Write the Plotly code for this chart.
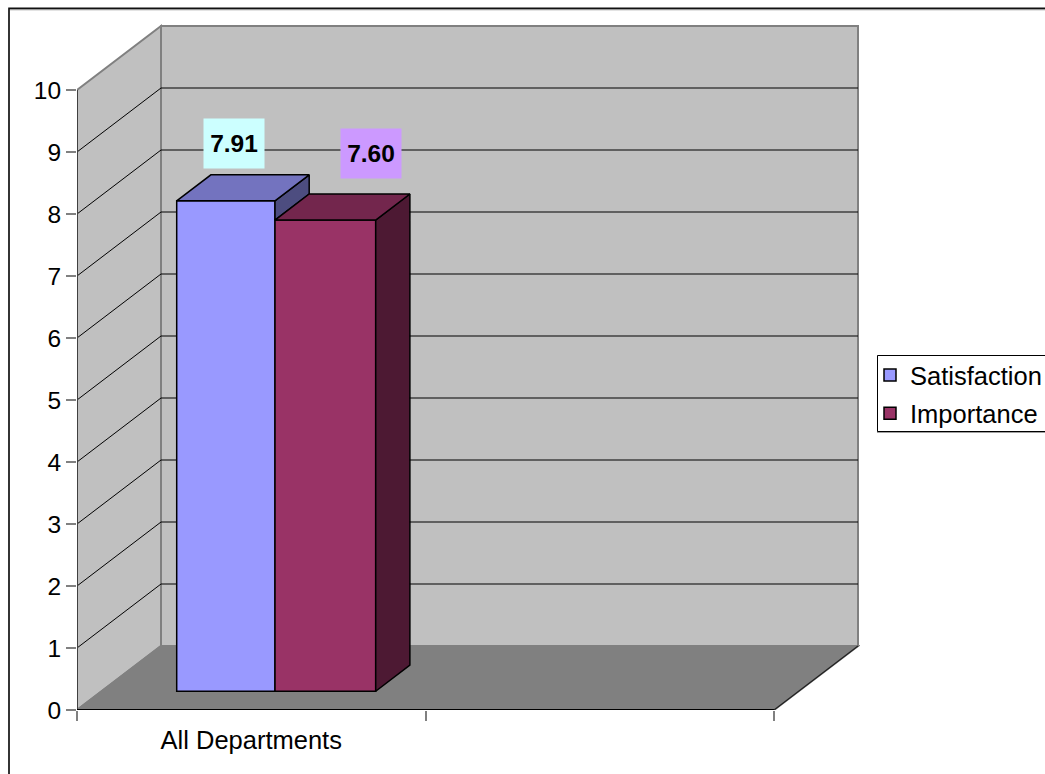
import plotly.graph_objects as go

# ---- chart values ----
categories = ["All Departments"]
series_names = ["Satisfaction", "Importance"]
satisfaction = [7.91]
importance = [7.60]
value_ticks = [0, 1, 2, 3, 4, 5, 6, 7, 8, 9, 10]
category_bounds = [0, 1, 2]

# ---- page and box geometry (pixels) ----
W, H = 1045, 774
PLOT_L, PLOT_R, PLOT_T = 77, 860, 20
ZERO_Y = 710.0
PX_PER_CAT = 348.5
PX_PER_VAL = 62.0
X_MAX = (PLOT_R - PLOT_L) / PX_PER_CAT
Y_MAX = (ZERO_Y - PLOT_T) / PX_PER_VAL
FONT = "Liberation Sans"
TEXT_SIZE = 24.5
NAME_SIZE = 25.5

# oblique projection: how far the back plane sits from the front plane
DEPTH_X = 84.0 / PX_PER_CAT
DEPTH_Y = 64.0 / PX_PER_VAL
BAR_FRONT_DEPTH = 0.293
BAR_BACK_DEPTH = 0.70
BAR_LEFT = 99.7 / PX_PER_CAT
BAR_WIDTHS = [98.3 / PX_PER_CAT, 100.7 / PX_PER_CAT]


def project(x, y, depth=0.0):
    return x + depth * DEPTH_X, y + depth * DEPTH_Y


def poly(points):
    return "M" + " L".join(f"{x:.5f},{y:.5f}" for x, y in points) + " Z"


def paper_x(px):
    return (px - PLOT_L) / (PLOT_R - PLOT_L)


def paper_y(py):
    return (ZERO_Y - py) / (ZERO_Y - PLOT_T)


WALL = "#C0C0C0"
FLOOR = "#808080"
EDGE = "#808080"
shapes = []


def add_face(points, fill, line=EDGE, width=1.5):
    shapes.append(dict(type="path", xref="x", yref="y", layer="below", path=poly(points),
                       fillcolor=fill, line=dict(color=line, width=width)))


def add_line(p, q, color="black", width=1):
    shapes.append(dict(type="line", xref="x", yref="y", layer="below", x0=p[0], y0=p[1],
                       x1=q[0], y1=q[1], line=dict(color=color, width=width)))


x_lo, x_hi = category_bounds[0], category_bounds[-1]
y_lo, y_hi = value_ticks[0], value_ticks[-1]

# back wall, side wall and floor
add_face([project(x_lo, y_lo, 1), project(x_hi, y_lo, 1), project(x_hi, y_hi, 1), project(x_lo, y_hi, 1)], WALL, width=2)
add_face([project(x_lo, y_lo, 0), project(x_lo, y_lo, 1), project(x_lo, y_hi, 1), project(x_lo, y_hi, 0)], WALL, width=2)
add_face([project(x_lo, y_lo, 0), project(x_hi, y_lo, 0), project(x_hi, y_lo, 1), project(x_lo, y_lo, 1)], FLOOR, width=2)

# gridlines wrap from the side wall onto the back wall
for v in value_ticks[1:-1]:
    add_line(project(x_lo, v, 0), project(x_lo, v, 1))
    add_line(project(x_lo, v, 1), project(x_hi, v, 1))

# chart-area frame, open past the right and bottom page edges
shapes.append(dict(type="rect", xref="paper", yref="paper", layer="below",
                   x0=paper_x(9), x1=paper_x(W + 40), y0=paper_y(H + 40), y1=paper_y(9.4),
                   line=dict(color="#C8C8C8", width=2)))
shapes.append(dict(type="rect", xref="paper", yref="paper", layer="below",
                   x0=paper_x(9), x1=paper_x(W + 40), y0=paper_y(H + 40), y1=paper_y(8.4),
                   line=dict(color="#111111", width=1.6)))

# legend box with its soft drop edge, open past the right page edge
shapes.append(dict(type="rect", xref="paper", yref="paper", layer="below",
                   x0=paper_x(877), x1=paper_x(W + 40), y0=paper_y(433), y1=paper_y(355.5),
                   fillcolor="#A0A0A0", line=dict(width=0)))
shapes.append(dict(type="rect", xref="paper", yref="paper", layer="below",
                   x0=paper_x(877.5), x1=paper_x(W + 40), y0=paper_y(431.5), y1=paper_y(355.5),
                   fillcolor="white", line=dict(color="black", width=1)))

series = [
    dict(name=series_names[0], values=satisfaction, front="#9999FF", top="#7373BF", side="#4D4D80",
         label_bg="#CCFFFF", shift=(8, -57)),
    dict(name=series_names[1], values=importance, front="#993366", top="#73264D", side="#4D1933",
         label_bg="#CC99FF", shift=(45.5, -67)),
]

fig = go.Figure()

# front faces of the columns
base_y = BAR_FRONT_DEPTH * DEPTH_Y
lefts = [BAR_LEFT, BAR_LEFT + BAR_WIDTHS[0]]
for i, s in enumerate(series):
    fig.add_trace(go.Bar(
        x=[lefts[i]], y=s["values"], base=base_y, width=BAR_WIDTHS[i], offset=0,
        name=s["name"], legendgroup=s["name"],
        marker=dict(color=s["front"], line=dict(color="black", width=1.5)),
        hoverinfo="skip",
    ))

d = BAR_BACK_DEPTH - BAR_FRONT_DEPTH


def add_solid(points, fill):
    xs = [p[0] for p in points] + [points[0][0]]
    ys = [p[1] for p in points] + [points[0][1]]
    fig.add_trace(go.Scatter(x=xs, y=ys, mode="lines", fill="toself", fillcolor=fill,
                             line=dict(color="black", width=1.5), cliponaxis=False,
                             showlegend=False, hoverinfo="skip"))


# side faces first, then tops, so the shorter column's top covers its neighbour's side
for i, s in enumerate(series):
    v = s["values"][0]
    xr = lefts[i] + BAR_WIDTHS[i]
    lower = series[i + 1]["values"][0] if i + 1 < len(series) else 0
    bottom = base_y + lower
    add_solid([(xr, base_y + v), project(xr, base_y + v, d), project(xr, bottom, d), (xr, bottom)], s["side"])
for i, s in enumerate(series):
    v = s["values"][0]
    xl = lefts[i]
    xr = xl + BAR_WIDTHS[i]
    add_solid([(xl, base_y + v), (xr, base_y + v), project(xr, base_y + v, d), project(xl, base_y + v, d)], s["top"])


def add_axis_line(p, q, color, width):
    fig.add_trace(go.Scatter(x=[p[0], q[0]], y=[p[1], q[1]], mode="lines", cliponaxis=False,
                             line=dict(color=color, width=width), showlegend=False, hoverinfo="skip"))


# axis lines sit on the front plane
add_axis_line((x_lo, y_lo), (x_lo, y_hi), "#404040", 2)
add_axis_line((x_lo, y_lo), (x_hi, y_lo), "black", 2)
add_axis_line((x_hi, y_lo), project(x_hi, y_lo, 1), "#202020", 1.2)

annotations = []
for i, s in enumerate(series):
    v = s["values"][0]
    annotations.append(dict(
        x=lefts[i] + 0.5 * BAR_WIDTHS[i], y=base_y + v, xref="x", yref="y",
        text=f"<b>{v:.2f}</b>", showarrow=False, xanchor="center", yanchor="middle",
        xshift=s["shift"][0], yshift=-s["shift"][1], width=60, height=49, bgcolor=s["label_bg"],
        borderpad=0, font=dict(family=FONT, size=TEXT_SIZE, color="black"),
    ))

fig.update_layout(
    width=W, height=H, autosize=False,
    margin=dict(l=PLOT_L, r=W - PLOT_R, t=PLOT_T, b=H - ZERO_Y, pad=0, autoexpand=False),
    paper_bgcolor="white", plot_bgcolor="rgba(0,0,0,0)",
    font=dict(family=FONT, size=TEXT_SIZE, color="black"),
    barmode="overlay", shapes=shapes, annotations=annotations,
    legend=dict(x=paper_x(875), xanchor="left", y=paper_y(352), yanchor="top",
                bgcolor="rgba(0,0,0,0)", borderwidth=0, indentation=-5,
                font=dict(family=FONT, size=NAME_SIZE, color="black"),
                itemclick=False, itemdoubleclick=False, tracegroupgap=2),
    xaxis=dict(range=[0, X_MAX], showgrid=False, zeroline=False, showline=False,
               tickmode="array", tickvals=[0.5], ticktext=categories, ticks="",
               ticklabelstandoff=12, tickfont=dict(size=NAME_SIZE),
               minor=dict(tickmode="array", tickvals=category_bounds, ticks="outside", ticklen=10,
                          tickcolor="#808080", tickwidth=1.5, showgrid=False)),
    yaxis=dict(range=[0, Y_MAX], showgrid=False, zeroline=False, showline=False,
               tickmode="array", tickvals=value_ticks, ticks="outside", ticklen=10,
               tickcolor="#808080", tickwidth=1.5),
)

fig.write_html("out.html", config=dict(displayModeBar=False))
